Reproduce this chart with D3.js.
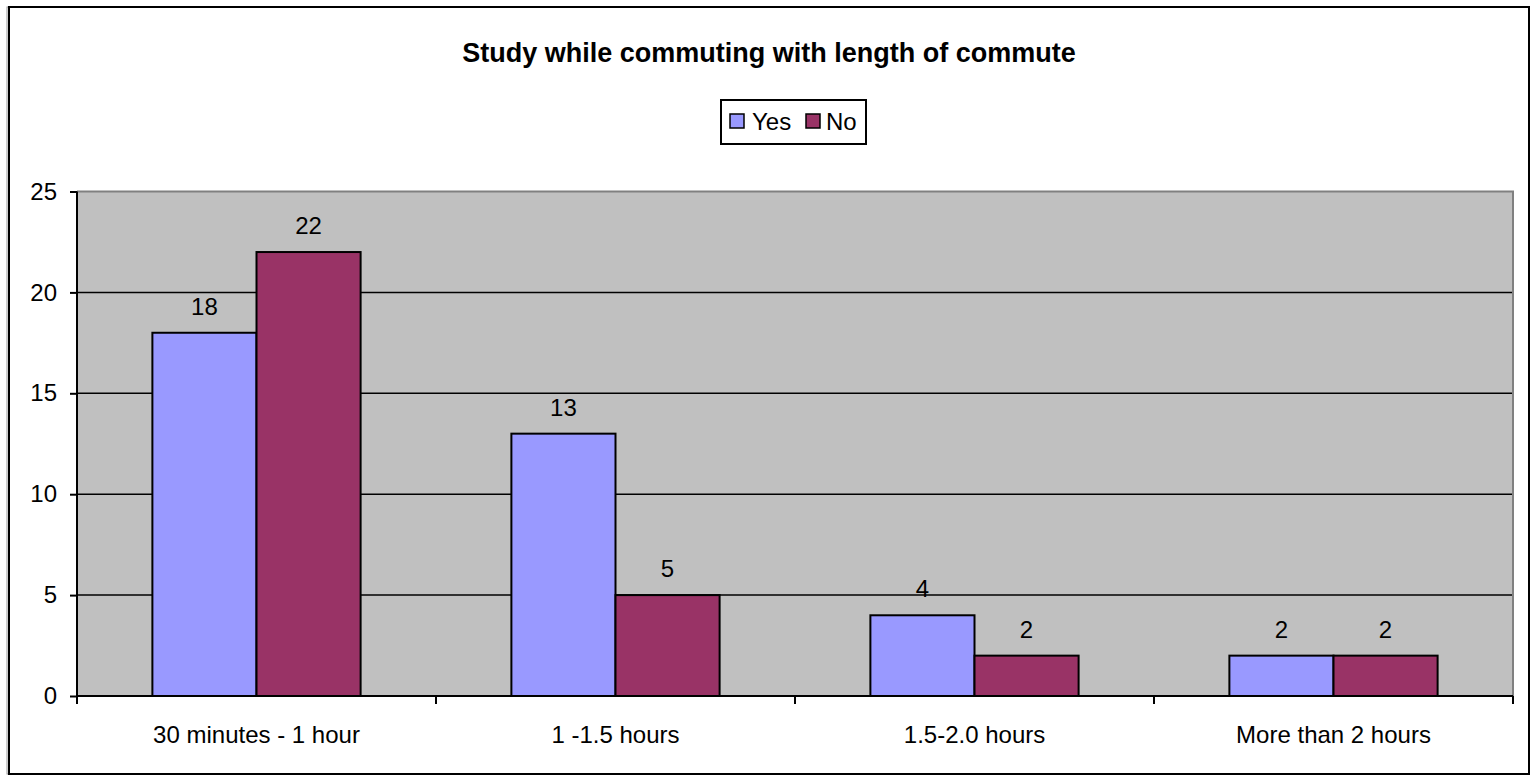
<!DOCTYPE html>
<html>
<head>
<meta charset="utf-8">
<script src="https://cdn.jsdelivr.net/npm/d3@7/dist/d3.min.js"></script>
<style>
  html, body { margin: 0; padding: 0; background: #ffffff; }
  svg { display: block; font-family: "Liberation Sans", Arial, sans-serif; }
</style>
</head>
<body>
<svg id="chart" width="1530" height="777"></svg>
<script>
// Commute length groups and answers to "do you study while commuting?"
const categories = ["30 minutes - 1 hour", "1 -1.5 hours", "1.5-2.0 hours", "More than 2 hours"];
const seriesNames = ["Yes", "No"];
const yesValues = [18, 13, 4, 2];
const noValues = [22, 5, 2, 2];
const yTicks = [0, 5, 10, 15, 20, 25];
const seriesColors = ["#9999FF", "#993366"];

const svg = d3.select("#chart");
const FS = 24;

// outer frame with a faint shadow on the left edge
svg.append("rect").attr("x", 7).attr("y", 7).attr("width", 1521).attr("height", 767)
  .attr("fill", "none").attr("stroke", "#9a9a9a").attr("stroke-width", 1);
svg.append("rect").attr("x", 9).attr("y", 7).attr("width", 1520).attr("height", 767)
  .attr("fill", "#ffffff").attr("stroke", "#000000").attr("stroke-width", 2);

const plot = { left: 77, right: 1513, top: 191.5, bottom: 696 };

const x0 = d3.scaleBand().domain(categories)
  .range([plot.left, plot.right]).paddingInner(0.42).paddingOuter(0.21);
const x1 = d3.scaleBand().domain(seriesNames).range([0, x0.bandwidth()]).padding(0);
const y = d3.scaleLinear().domain([0, 25]).range([plot.bottom, plot.top]);

// plot background
svg.append("rect").attr("x", plot.left).attr("y", plot.top)
  .attr("width", plot.right - plot.left).attr("height", plot.bottom - plot.top)
  .attr("fill", "#C0C0C0");

// horizontal gridlines
svg.append("g").selectAll("line").data(yTicks.filter(t => t > 0 && t < 25)).join("line")
  .attr("x1", plot.left).attr("x2", plot.right)
  .attr("y1", d => y(d)).attr("y2", d => y(d))
  .attr("stroke", "#000000").attr("stroke-width", 1.5);

// top and right edges of the plot area
svg.append("path")
  .attr("d", `M${plot.left},${plot.top}H${plot.right}V${plot.bottom}`)
  .attr("fill", "none").attr("stroke", "#808080").attr("stroke-width", 2);

// bars
const rows = categories.map((c, i) => ({ cat: c, vals: [yesValues[i], noValues[i]] }));
const groups = svg.append("g").selectAll("g").data(rows).join("g")
  .attr("transform", d => `translate(${x0(d.cat)},0)`);

groups.selectAll("rect").data(d => d.vals.map((v, k) => ({ key: seriesNames[k], v, k }))).join("rect")
  .attr("x", d => x1(d.key))
  .attr("y", d => y(d.v))
  .attr("width", x1.bandwidth())
  .attr("height", d => y(0) - y(d.v))
  .attr("fill", d => seriesColors[d.k])
  .attr("stroke", "#000000").attr("stroke-width", 2);

// value labels
groups.selectAll("text").data(d => d.vals.map((v, k) => ({ key: seriesNames[k], v }))).join("text")
  .attr("x", d => x1(d.key) + x1.bandwidth() / 2)
  .attr("y", d => y(d.v) - 18)
  .attr("text-anchor", "middle")
  .attr("font-size", FS).attr("fill", "#000")
  .text(d => d.v);

// y axis
const yAxis = d3.axisLeft(y).tickValues(yTicks).tickSize(7).tickPadding(13);
const gy = svg.append("g").attr("transform", `translate(${plot.left},0)`).call(yAxis);
gy.select(".domain").attr("stroke", "#000").attr("stroke-width", 2).attr("d", `M0,${plot.top}V${plot.bottom + 8}`);
gy.selectAll(".tick line").attr("stroke", "#000").attr("stroke-width", 2);
gy.selectAll(".tick text").attr("font-size", FS).attr("font-family", "Liberation Sans, Arial, sans-serif").attr("fill", "#000");

// x axis with category labels
const xAxis = d3.axisBottom(x0).tickSize(0).tickPadding(30);
const gx = svg.append("g").attr("transform", `translate(0,${plot.bottom})`).call(xAxis);
gx.select(".domain").attr("stroke", "#000").attr("stroke-width", 2).attr("d", `M${plot.left},0H${plot.right}`);
gx.selectAll(".tick text").attr("font-size", FS).attr("font-family", "Liberation Sans, Arial, sans-serif").attr("fill", "#000");

// tick marks at category boundaries
const half = (x0.step() - x0.bandwidth()) / 2;
const bounds = categories.map(c => x0(c) - half).concat([x0(categories[categories.length - 1]) + x0.bandwidth() + half]);
gx.selectAll("line.bound").data(bounds).join("line").attr("class", "bound")
  .attr("x1", d => d).attr("x2", d => d).attr("y1", 0).attr("y2", 8)
  .attr("stroke", "#000").attr("stroke-width", 2);

// title
svg.append("text").attr("x", 769).attr("y", 62).attr("text-anchor", "middle")
  .attr("font-size", 27).attr("font-weight", "bold").attr("fill", "#000")
  .text("Study while commuting with length of commute");

// legend
const lg = svg.append("g");
lg.append("rect").attr("x", 721).attr("y", 100).attr("width", 145).attr("height", 44)
  .attr("fill", "#fff").attr("stroke", "#000").attr("stroke-width", 2);
const legendItems = [{ name: seriesNames[0], sx: 730, tx: 752 }, { name: seriesNames[1], sx: 806, tx: 826 }];
legendItems.forEach((it, k) => {
  lg.append("rect").attr("x", it.sx).attr("y", 114).attr("width", 14).attr("height", 14)
    .attr("fill", seriesColors[k]).attr("stroke", "#000").attr("stroke-width", 1.5);
  lg.append("text").attr("x", it.tx).attr("y", 130).attr("font-size", FS).attr("fill", "#000").text(it.name);
});
</script>
</body>
</html>
